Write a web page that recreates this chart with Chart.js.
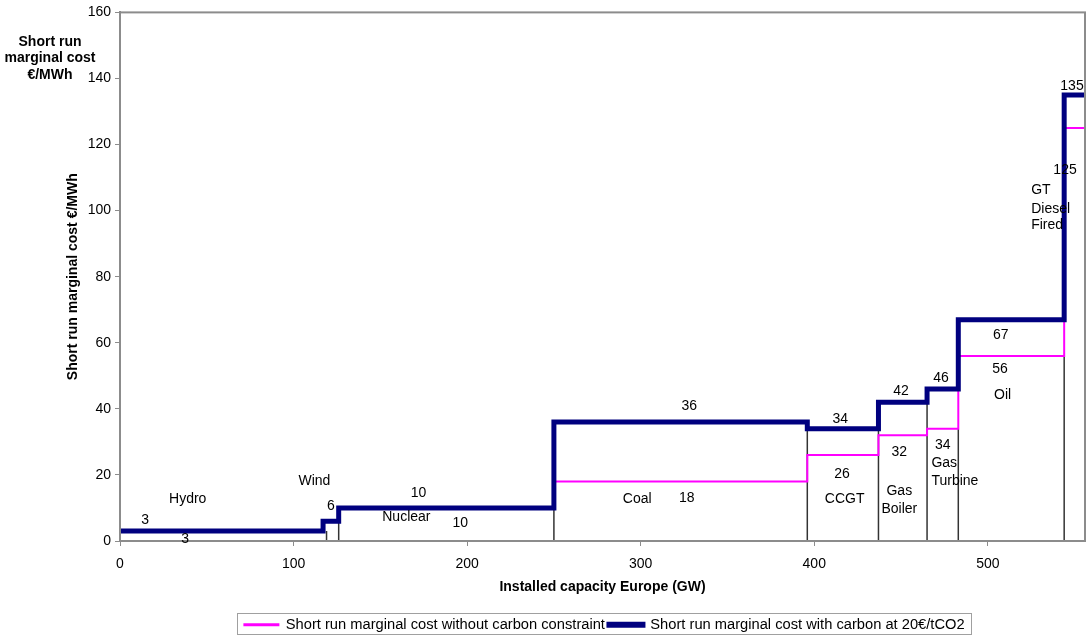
<!DOCTYPE html>
<html>
<head>
<meta charset="utf-8">
<script src="https://cdn.jsdelivr.net/npm/chart.js@4.4.1/dist/chart.umd.min.js"></script>
<style>
  body { margin: 0; background: #fff; }
  #wrap { width: 1088px; height: 636px; }
</style>
</head>
<body>
<div id="wrap"><canvas id="chart" width="1088" height="636"></canvas></div>
<script>
// capacity where each technology block starts (GW), last value = end of the stack
const capacityStart = [0, 117, 126, 250, 396, 437, 465, 483, 544];
const capacityEnd = 556;
// cost of each block (EUR/MWh)
const costNoCarbon = [3, 6, 10, 18, 26, 32, 34, 56, 125];
const costCarbon = [3, 6, 10, 36, 34, 42, 46, 67, 135];
// thin black separators between blocks
const dividerX = [119, 126, 250, 396, 437, 465, 483, 544];
const dividerTop = [3, 6, 18, 34, 42, 46, 34, 56];

// text written inside the chart
const noteText = ['3', 'Hydro', '3', 'Wind', '6', '10', 'Nuclear', '10',
  '36', 'Coal', '18', '34', '26', 'CCGT', '42', '32', 'Gas', 'Boiler',
  '46', '34', 'Gas', 'Turbine', '56', 'Oil', '67', '135', '125', 'GT', 'Diesel', 'Fired'];
const noteX = [14.5, 39, 37.5, 112, 121.5, 172, 165, 196,
  328, 298, 326.5, 415, 416, 417.5, 450, 449, 449, 449,
  473, 474, 467.5, 467.5, 507, 508.5, 507.5, 548.5, 544.5, 525, 525, 525];
const noteY = [6.3, 12.7, 0.6, 18, 10.5, 14.5, 7.2, 5.4,
  40.7, 12.7, 13, 37, 20.2, 12.7, 45.5, 26.8, 15, 9.6,
  49.4, 29, 23.5, 18, 52, 44, 62.3, 137.7, 112.3, 106.3, 100.6, 95.5];
const noteLeft = ['Gas', 'Turbine', 'GT', 'Diesel', 'Fired'];

const FONT = '"Liberation Sans", Arial, sans-serif';

function stepPoints(costs) {
  const pts = capacityStart.map((x, i) => ({ x: x, y: costs[i] }));
  pts.push({ x: capacityEnd, y: costs[costs.length - 1] });
  return pts;
}

function dividerPoints() {
  const pts = [];
  dividerX.forEach((x, i) => {
    pts.push({ x: x, y: 0 });
    pts.push({ x: x, y: dividerTop[i] });
    pts.push({ x: x, y: null });
  });
  return pts;
}

// legend sits right of centre and a bit lower in the original
const legendShift = { x: 62, y: 6 };

const notesPlugin = {
  id: 'notes',
  afterLayout(chart) {
    const lg = chart.legend;
    if (!lg) return;
    lg.left += legendShift.x; lg.right += legendShift.x;
    lg.top += legendShift.y; lg.bottom += legendShift.y;
    lg.legendHitBoxes.forEach(h => { h.left += legendShift.x; });
  },
  afterDatasetsDraw(chart) {
    const ctx = chart.ctx;
    const xs = chart.scales.x, ys = chart.scales.y;
    const area = chart.chartArea;
    ctx.save();
    ctx.strokeStyle = '#8c8c8c';
    ctx.lineWidth = 2;
    ctx.strokeRect(area.left, area.top, area.right - area.left, area.bottom - area.top);

    ctx.font = '14px ' + FONT;
    ctx.fillStyle = '#000';
    ctx.textBaseline = 'middle';
    noteText.forEach((t, i) => {
      const left = noteLeft.includes(t) && noteX[i] > 460;
      ctx.textAlign = left ? 'left' : 'center';
      ctx.fillText(t, xs.getPixelForValue(noteX[i]), ys.getPixelForValue(noteY[i]));
    });

    ctx.font = 'bold 14px ' + FONT;
    ctx.textAlign = 'center';
    ['Short run', 'marginal cost', '€/MWh'].forEach((t, i) => {
      ctx.fillText(t, 50, 42 + i * 16.5);
    });

    // box round the legend
    const lg = chart.legend;
    if (lg && lg.legendHitBoxes.length) {
      const hb = lg.legendHitBoxes;
      const l = Math.min(...hb.map(h => h.left)) - 7;
      const r = Math.max(...hb.map(h => h.left + h.width)) + 7;
      const t = chart.height - 23;
      const b = chart.height - 1;
      ctx.strokeStyle = '#a0a0a0';
      ctx.lineWidth = 1;
      ctx.strokeRect(Math.round(l) + 0.5, t + 0.5, Math.round(r - l), b - t - 1);
    }
    ctx.restore();
  }
};

new Chart(document.getElementById('chart'), {
  type: 'line',
  data: {
    datasets: [
      {
        label: 'Short run marginal cost with carbon at 20€/tCO2',
        data: stepPoints(costCarbon),
        borderColor: '#00007f',
        backgroundColor: '#00007f',
        borderWidth: 5,
        stepped: true,
        pointRadius: 0
      },
      {
        label: 'Short run marginal cost without carbon constraint',
        data: stepPoints(costNoCarbon),
        borderColor: '#ff00ff',
        backgroundColor: '#ff00ff',
        borderWidth: 2,
        stepped: true,
        pointRadius: 0
      },
      {
        label: 'divider',
        data: dividerPoints(),
        borderColor: '#333',
        borderWidth: 1.5,
        spanGaps: false,
        pointRadius: 0
      }
    ]
  },
  options: {
    responsive: false,
    animation: false,
    devicePixelRatio: 1,
    layout: { padding: { left: 0, right: 3, top: 10, bottom: 0 } },
    scales: {
      x: {
        type: 'linear',
        min: 0,
        max: capacityEnd,
        afterFit: s => { s.height = s.chart.height - 541 - s.chart.legend.height; },
        ticks: { stepSize: 100, includeBounds: false, padding: 10, color: '#000', font: { size: 14, family: FONT } },
        grid: { drawOnChartArea: false, tickLength: 5, color: '#8c8c8c' },
        border: { color: '#8c8c8c', width: 2 },
        title: {
          display: true,
          text: 'Installed capacity Europe (GW)',
          color: '#000',
          font: { size: 14, weight: 'bold', family: FONT },
          padding: { top: 0, bottom: 12 }
        }
      },
      y: {
        min: 0,
        max: 160,
        afterFit: s => { s.width = 120; },
        ticks: { stepSize: 20, padding: 4, color: '#000', font: { size: 14, family: FONT } },
        grid: { drawOnChartArea: false, tickLength: 5, color: '#8c8c8c' },
        border: { color: '#8c8c8c', width: 2 },
        title: {
          display: true,
          text: 'Short run marginal cost €/MWh',
          color: '#000',
          font: { size: 14, weight: 'bold', family: FONT },
          padding: { top: 65, bottom: 0 }
        }
      }
    },
    plugins: {
      legend: {
        position: 'bottom',
        labels: {
          color: '#000',
          font: { size: 14.7, family: FONT },
          boxWidth: 34,
          boxHeight: 1,
          padding: 4,
          filter: item => item.text !== 'divider',
          sort: (a, b) => b.datasetIndex - a.datasetIndex
        }
      },
      tooltip: { enabled: false }
    }
  },
  plugins: [notesPlugin]
});
</script>
</body>
</html>
